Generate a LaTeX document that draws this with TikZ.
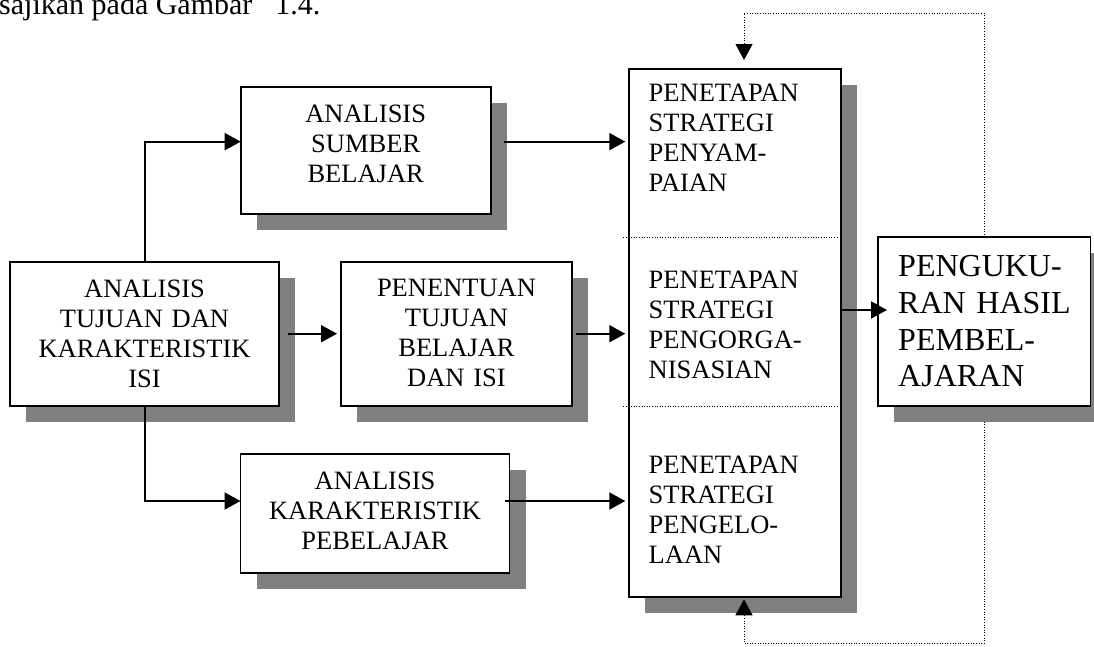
\documentclass[tikz,border=0pt]{standalone}
\usepackage{fontspec}
\setmainfont{Liberation Serif}
\usetikzlibrary{arrows.meta,calc,shadows}

\begin{document}
\begin{tikzpicture}[x=1pt,y=-1pt,
  box/.style={draw, line width=1.8pt, fill=white, inner sep=0pt, outer sep=0pt,
    anchor=north west,
    drop shadow={shadow xshift=16pt, shadow yshift=-16pt, fill=gray, opacity=1}},
  boxtext/.style={inner sep=0pt, anchor=base, align=center,
    font=\fontsize{26.5}{30}\selectfont},
  lefttext/.style={inner sep=0pt, anchor=base west, align=left,
    font=\fontsize{26.5}{30}\selectfont},
  tip/.style={-{Triangle[length=16pt,width=17pt]}},
  conn/.style={line width=2pt, tip},
  feedback/.style={line width=1pt, dash pattern=on 1pt off 1.6pt, tip},
  divider/.style={line width=1pt, dash pattern=on 1pt off 1.6pt}]

\useasboundingbox (0,0) rectangle (1094,646);
\fill[white] (0,0) rectangle (1094,646);

% running text above the figure
\node[inner sep=0pt, anchor=base west, font=\fontsize{30}{36}\selectfont]
  (caption) at (-1,14) {sajikan pada Gambar\hspace{23pt}1.4.};

% boxes
\node[box, minimum width=269pt,   minimum height=144pt]   (A) at (10,261.7) {};
\node[box, minimum width=231.6pt, minimum height=144pt]   (B) at (340.7,261.7) {};
\node[box, minimum width=250pt,   minimum height=126.7pt] (S) at (240.7,87.3) {};
\node[box, minimum width=269pt,   minimum height=119.3pt] (E) at (240.5,454) {};
\node[box, minimum width=211.4pt, minimum height=528pt]   (C) at (629.3,69.3) {};
\node[box, minimum width=212.5pt, minimum height=168.4pt] (D) at (878,237.3) {};

% box texts
\node[boxtext, text width=250pt] (A-text) at (144.5,297)
  {ANALISIS\\TUJUAN DAN\\KARAKTERISTIK\\ISI};
\node[boxtext, text width=220pt] (B-text) at (456.5,296)
  {PENENTUAN\\TUJUAN\\BELAJAR\\DAN ISI};
\node[boxtext, text width=230pt] (S-text) at (365.7,122.3)
  {ANALISIS\\SUMBER\\BELAJAR};
\node[boxtext, text width=250pt] (E-text) at (375,489.3)
  {ANALISIS\\KARAKTERISTIK\\PEBELAJAR};
\node[lefttext, text width=190pt] (C1-text) at (648.5,101.7)
  {PENETAPAN\\STRATEGI\\PENYAM-\\PAIAN};
\node[lefttext, text width=190pt] (C2-text) at (648.5,288.3)
  {PENETAPAN\\STRATEGI\\PENGORGA-\\NISASIAN};
\node[lefttext, text width=190pt] (C3-text) at (648.5,473.3)
  {PENETAPAN\\STRATEGI\\PENGELO-\\LAAN};
\node[lefttext, text width=190pt, font=\fontsize{32}{36.7}\selectfont]
  (D-text) at (898,276.7) {PENGUKU-\\RAN HASIL\\PEMBEL-\\AJARAN};

% dotted dividers inside the strategy column
\coordinate (div1) at (623.3,237.7);
\coordinate (div2) at (623.3,406);
\draw[divider] (div1) -- ($(C.east |- div1)+(-2,0)$);
\draw[divider] (div2) -- ($(C.east |- div2)+(-2,0)$);

% connectors
\draw[conn] (A.north) |- ($(S.west)+(0,-9)$);
\draw[conn] (A.south) |- ($(E.west)+(0,-12.65)$);
\draw[conn] ($(A.east)+(9,0)$) -- ($(B.west)+(-3.7,0)$);
\draw[conn] ($(S.east)+(13.3,-9)$) -- ($(C.west |- S.east)+(-4,-9)$);
\draw[conn] ($(B.east)+(3.4,0)$) -- ($(C.west |- B.east)+(-4,0)$);
\draw[conn] ($(E.east)+(-5,-12.65)$) -- ($(C.west |- E.east)+(-4,-12.65)$);
\draw[conn] ($(C.east)+(0,-23.3)$) -- ($(D.west |- C.east)+(9,-23.3)$);

% feedback loop from the measurement box back to the strategy column
\coordinate (loopTop) at (0,13.3);
\coordinate (loopBot) at (0,643.3);
\draw[feedback] (D.north) -- (D.north |- loopTop) -| ($(C.north)+(9,-9.3)$);
\draw[feedback] ($(D.south)+(0,16)$) -- (D.south |- loopBot) -| ($(C.south)+(9,2)$);
\end{tikzpicture}
\end{document}
